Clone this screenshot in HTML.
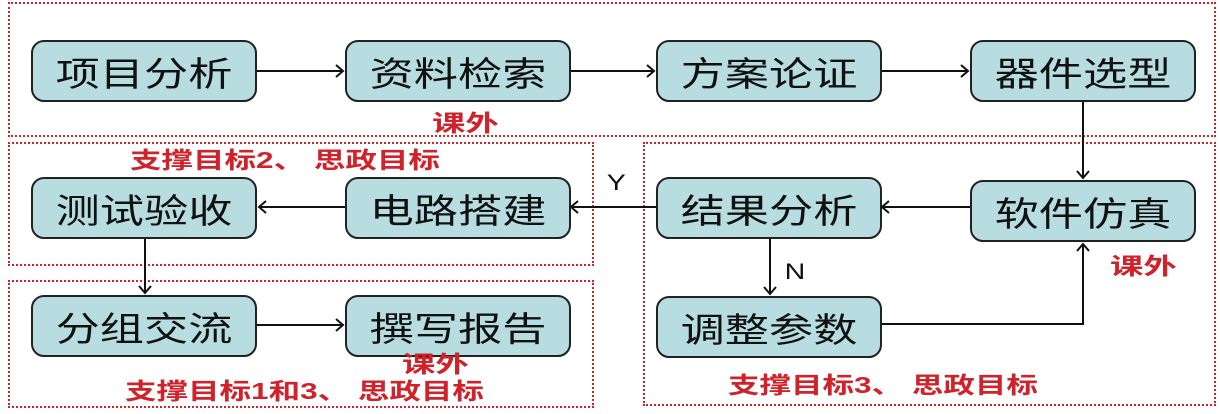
<!DOCTYPE html>
<html><head><meta charset="utf-8"><style>
body{margin:0;width:1220px;height:414px;background:#fff;overflow:hidden;position:relative;font-family:"Liberation Sans","Noto Sans CJK SC",sans-serif}
.d{position:absolute;border:2px dotted #c8282c;box-sizing:border-box}
.b{position:absolute;width:226px;height:62px;background:#b7dde1;border:2px solid #222;border-radius:13px;box-sizing:border-box;display:flex;align-items:center;justify-content:center;font-size:34px;color:#111}
.b span{display:inline-block;transform:scaleX(1.3)}
.r{position:absolute;color:#d0222a;font-weight:bold;font-size:23px;line-height:23px;white-space:nowrap;transform-origin:left top}
.t{position:absolute;font-size:22px;color:#111;transform:scaleX(1.3)}
svg{position:absolute;left:0;top:0}
</style></head><body>
<div class="d" style="left:8px;top:2px;width:1208px;height:135px"></div>
<div class="d" style="left:8px;top:142px;width:586px;height:124px"></div>
<div class="d" style="left:8px;top:280px;width:586px;height:128px"></div>
<div class="d" style="left:643px;top:142px;width:573px;height:264px"></div>

<div class="b" style="left:31px;top:40px"><span>项目分析</span></div>
<div class="b" style="left:345px;top:40px"><span>资料检索</span></div>
<div class="b" style="left:656px;top:40px"><span>方案论证</span></div>
<div class="b" style="left:970px;top:40px"><span>器件选型</span></div>
<div class="b" style="left:31px;top:177px"><span>测试验收</span></div>
<div class="b" style="left:345px;top:177px"><span>电路搭建</span></div>
<div class="b" style="left:656px;top:177px"><span>结果分析</span></div>
<div class="b" style="left:970px;top:180px"><span>软件仿真</span></div>
<div class="b" style="left:656px;top:296px"><span>调整参数</span></div>
<div class="b" style="left:31px;top:295px"><span>分组交流</span></div>
<div class="b" style="left:345px;top:295px"><span>撰写报告</span></div>

<div class="r" style="left:432px;top:112px;transform:scaleX(1.45)">课外</div>
<div class="r" style="left:130px;top:149px;transform:scaleX(1.37)">支撑目标2、 思政目标</div>
<div class="r" style="left:1110px;top:255px;transform:scaleX(1.45)">课外</div>
<div class="r" style="left:402px;top:353px;transform:scaleX(1.45)">课外</div>
<div class="r" style="left:125px;top:380px;transform:scaleX(1.37)">支撑目标1和3、 思政目标</div>
<div class="r" style="left:728px;top:374px;transform:scaleX(1.37)">支撑目标3、 思政目标</div>
<div class="t" style="left:609px;top:170px">Y</div>
<div class="t" style="left:787px;top:259px">N</div>

<svg width="1220" height="414" fill="none" stroke="#111" stroke-width="2">
<path d="M257 71H343M336 65l7 6-7 6"/>
<path d="M571 71H654M647 65l7 6-7 6"/>
<path d="M882 71H968M961 65l7 6-7 6"/>
<path d="M1083 102V178M1077 171l6 7 6-7"/>
<path d="M970 207H882M889 201l-7 6 7 6"/>
<path d="M656 207H571M578 201l-7 6 7 6"/>
<path d="M345 207H259M266 201l-7 6 7 6"/>
<path d="M145 239V293M139 286l6 7 6-7"/>
<path d="M257 325H343M336 319l7 6-7 6"/>
<path d="M770 239V294M764 287l6 7 6-7"/>
<path d="M882 324H1083V244M1077 251l6-7 6 7"/>
</svg>
</body></html>
